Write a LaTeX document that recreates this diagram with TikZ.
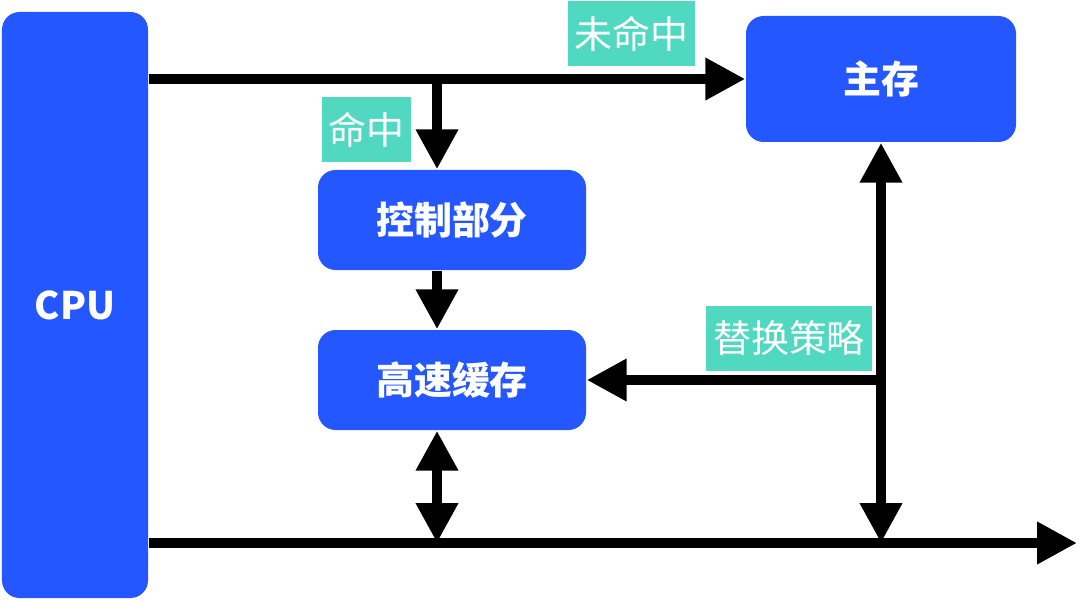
\documentclass[tikz,border=0pt]{standalone}
\usepackage{fontspec}
\usepackage{xcolor}
\usepackage{tikz}
\usetikzlibrary{arrows.meta, positioning, calc}
\newfontfamily\cjk{Noto Sans CJK SC}
\definecolor{boxblue}{RGB}{36,87,255}
\definecolor{tagteal}{RGB}{80,217,192}

\begin{document}
\begin{tikzpicture}[
    box/.style={rectangle, rounded corners=5pt, fill=boxblue, draw=none,
                text=white, align=center, inner sep=0pt,
                font=\cjk\bfseries\fontsize{10.8}{13}\selectfont},
    tag/.style={rectangle, fill=tagteal, draw=none, text=white, inner sep=0pt,
                minimum height=0.65cm,
                font=\cjk\fontsize{10.8}{13}\selectfont},
    arrow/.style={-{Triangle[length=4mm, width=4mm]}, line width=1mm},
    dblarrow/.style={{Triangle[length=4mm, width=4mm]}-{Triangle[length=4mm, width=4mm]}, line width=1mm}
]
\useasboundingbox (0,0) rectangle (10.8,6);

\node[box, minimum width=1.46cm, minimum height=5.86cm] (cpu) at (0.75,2.95) {CPU};
\node[box, minimum width=2.70cm, minimum height=1.26cm] (mem) at (8.81,5.21) {主存};
\node[box, minimum width=2.68cm, minimum height=1.00cm] (ctrl) at (4.52,3.80) {控制部分};
\node[box, minimum width=2.68cm, minimum height=1.00cm] (cache) at (4.52,2.20) {高速缓存};

\node[tag, minimum width=1.27cm] (miss) at (6.315,5.66) {未命中};
\node[tag, minimum width=0.89cm] (hit) at (3.665,4.70) {命中};
\node[tag, minimum width=1.66cm] (repl) at (7.89,2.62) {替换策略};

\coordinate (split) at (4.37,5.21);
\coordinate (busend) at (10.77,0.57);

% address path
\draw[arrow] (mem.west -| cpu.east) -- (mem.west);
\draw[arrow] (split) -- (split |- ctrl.north);
\draw[arrow] (ctrl.south -| split) -- (cache.north -| split);

% data bus
\draw[arrow] (cpu.east |- busend) -- (busend);
\draw[dblarrow] (cache.south -| split) -- (split |- busend);
\draw[dblarrow] (mem.south) -- (mem.south |- busend);
\draw[arrow] (mem.south |- cache.east) -- (cache.east);

\end{tikzpicture}
\end{document}
